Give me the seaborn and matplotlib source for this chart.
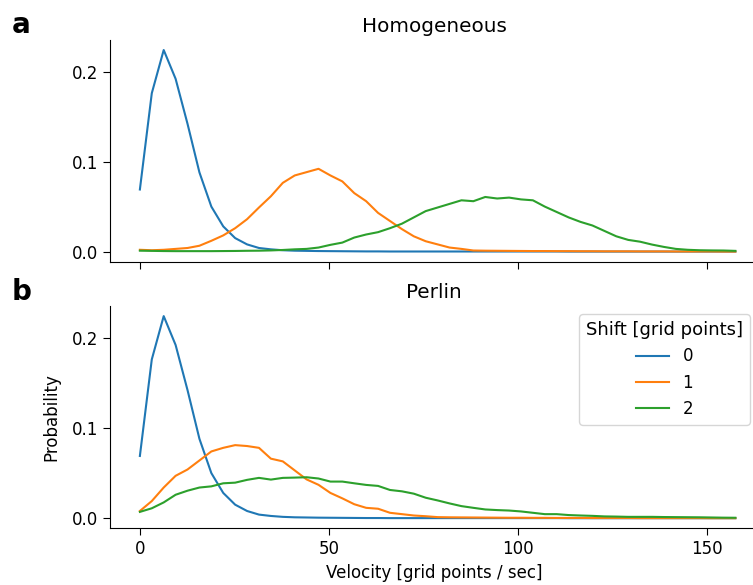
import matplotlib
matplotlib.use("Agg")
import matplotlib.pyplot as plt
import seaborn as sns
import pandas as pd

# velocity bins [grid points / sec]
velocity = [0.0, 3.15, 6.3, 9.45, 12.6, 15.75, 18.9, 22.05, 25.2, 28.35,
            31.5, 34.65, 37.8, 40.95, 44.1, 47.25, 50.4, 53.55, 56.7, 59.85,
            63.0, 66.15, 69.3, 72.45, 75.6, 78.75, 81.9, 85.05, 88.2, 91.35,
            94.5, 97.65, 100.8, 103.95, 107.1, 110.25, 113.4, 116.55, 119.7, 122.85,
            126.0, 129.15, 132.3, 135.45, 138.6, 141.75, 144.9, 148.05, 151.2, 154.35,
            157.5]

shift_labels = ["0", "1", "2"]

# Homogeneous
homog_0 = [0.069, 0.176, 0.224, 0.192, 0.142, 0.088, 0.050, 0.028, 0.015, 0.008,
           0.004, 0.0025, 0.0015, 0.001, 0.0008, 0.0006, 0.0005, 0.0004, 0.0003, 0.0002,
           0.0002, 0.0001, 0.0001, 0.0001, 0.0001, 0.0001, 0.0001, 0.0001, 0.0001, 0.0001,
           0.0001, 0.0001, 0.0001, 0.0001, 0.0001, 0.0001, 0.0, 0.0, 0.0, 0.0,
           0.0, 0.0, 0.0, 0.0, 0.0, 0.0, 0.0, 0.0, 0.0, 0.0,
           0.0]
homog_1 = [0.002, 0.0015, 0.002, 0.003, 0.004, 0.0065, 0.012, 0.018, 0.026, 0.036,
           0.049, 0.0615, 0.0764, 0.0846, 0.0883, 0.092, 0.0846, 0.078, 0.065, 0.056,
           0.043, 0.034, 0.025, 0.017, 0.0115, 0.008, 0.0045, 0.003, 0.0012, 0.001,
           0.0009, 0.0008, 0.0007, 0.0006, 0.0006, 0.0005, 0.0005, 0.0004, 0.0004, 0.0003,
           0.0003, 0.0003, 0.0002, 0.0002, 0.0002, 0.0001, 0.0001, 0.0001, 0.0001, 0.0,
           0.0]
homog_2 = [0.001, 0.0008, 0.0006, 0.0005, 0.0005, 0.0005, 0.0005, 0.0006, 0.0007, 0.0009,
           0.001, 0.0013, 0.0018, 0.0025, 0.003, 0.0045, 0.0075, 0.010, 0.0156, 0.019,
           0.0216, 0.026, 0.031, 0.038, 0.045, 0.049, 0.053, 0.057, 0.056, 0.0607,
           0.059, 0.060, 0.058, 0.057, 0.050, 0.044, 0.038, 0.033, 0.029, 0.023,
           0.017, 0.013, 0.011, 0.0078, 0.0052, 0.003, 0.002, 0.0015, 0.0013, 0.0012,
           0.0008]

# Perlin
perlin_0 = homog_0
perlin_1 = [0.008, 0.019, 0.034, 0.047, 0.054, 0.064, 0.074, 0.078, 0.081, 0.080,
            0.078, 0.066, 0.063, 0.053, 0.043, 0.037, 0.028, 0.022, 0.0155, 0.0115,
            0.0105, 0.006, 0.0045, 0.003, 0.0022, 0.0012, 0.001, 0.0009, 0.0008, 0.0007,
            0.0006, 0.0005, 0.0005, 0.0004, 0.0004, 0.0003, 0.0003, 0.0003, 0.0002, 0.0002,
            0.0002, 0.0002, 0.0001, 0.0001, 0.0001, 0.0001, 0.0001, 0.0001, 0.0, 0.0,
            0.0]
perlin_2 = [0.007, 0.011, 0.0175, 0.026, 0.0305, 0.034, 0.0353, 0.0387, 0.0394, 0.0425,
            0.0447, 0.0428, 0.0447, 0.045, 0.0454, 0.044, 0.0406, 0.0406, 0.0387, 0.0369,
            0.0358, 0.0313, 0.0298, 0.0272, 0.0227, 0.0197, 0.0164, 0.0134, 0.0115, 0.0097,
            0.009, 0.0085, 0.0075, 0.006, 0.0045, 0.0045, 0.0035, 0.003, 0.0026, 0.002,
            0.0018, 0.0015, 0.0015, 0.0015, 0.0013, 0.0012, 0.0011, 0.001, 0.0008, 0.0006,
            0.0005]


def to_long(series):
    frames = []
    for lab, vals in zip(shift_labels, series):
        frames.append(pd.DataFrame({"velocity": velocity, "prob": vals,
                                    "Shift [grid points]": lab}))
    return pd.concat(frames, ignore_index=True)


df_homog = to_long([homog_0, homog_1, homog_2])
df_perlin = to_long([perlin_0, perlin_1, perlin_2])

plt.rcParams["font.family"] = ["DejaVu Sans"]
plt.rcParams["font.size"] = 12
plt.rcParams["xtick.labelsize"] = 12
plt.rcParams["ytick.labelsize"] = 12
plt.rcParams["legend.fontsize"] = 12
plt.rcParams["legend.title_fontsize"] = 13
plt.rcParams["xtick.major.size"] = 5
plt.rcParams["ytick.major.size"] = 5

palette = ["#1f77b4", "#ff7f0e", "#2ca02c"]

fig = plt.figure(figsize=(7.53, 5.85), dpi=100)
ax1 = fig.add_axes([0.1461, 0.5527, 0.8606, 0.379])
ax2 = fig.add_axes([0.1461, 0.0969, 0.8606, 0.380], sharex=ax1)

sns.lineplot(data=df_homog, x="velocity", y="prob", hue="Shift [grid points]",
             palette=palette, linewidth=1.5, legend=False, ax=ax1)
sns.lineplot(data=df_perlin, x="velocity", y="prob", hue="Shift [grid points]",
             palette=palette, linewidth=1.5, ax=ax2)

ax1.set_title("Homogeneous")
ax2.set_title("Perlin")
ax1.set_xlabel("")
ax1.set_ylabel("")
ax1.tick_params(labelbottom=False)
ax2.set_xlabel("Velocity [grid points / sec]")
ax2.set_ylabel("Probability", labelpad=8)
ax1.set_xlim(-7.9, 163.5)
ax1.set_xticks([0, 50, 100, 150])
ax1.set_yticks([0.0, 0.1, 0.2])
ax2.set_yticks([0.0, 0.1, 0.2])

sns.move_legend(ax2, "upper right")
sns.despine(fig=fig)

fig.text(12 / 753, 1 - 25 / 585, "a", fontsize=20, fontweight="bold", va="center")
fig.text(12 / 753, 1 - 292 / 585, "b", fontsize=20, fontweight="bold", va="center")

fig.savefig("out.png", dpi=100)
plt.close(fig)
